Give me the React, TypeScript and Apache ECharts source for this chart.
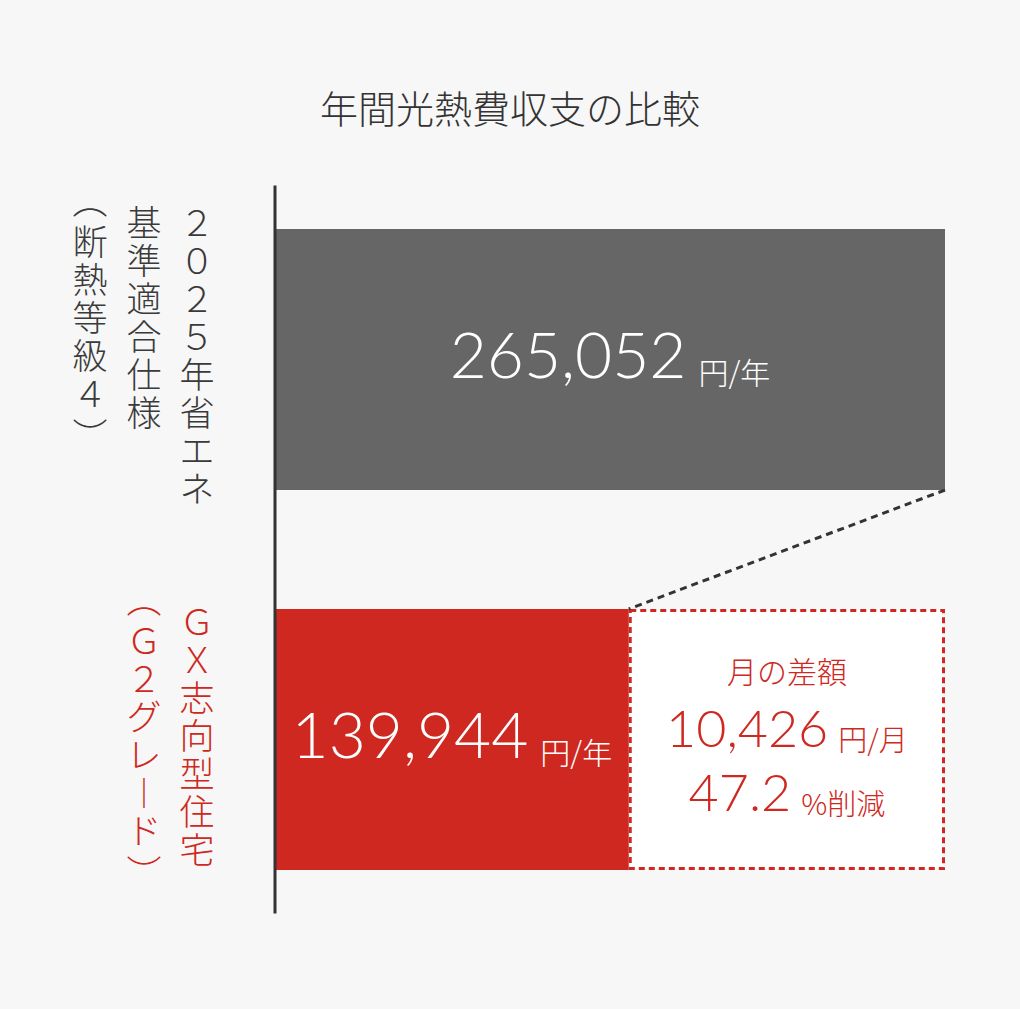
import React, { useEffect, useRef } from 'react';
import * as echarts from 'echarts';

// 値はすべて画像から読み取り
const categories = ['2025年省エネ基準適合仕様（断熱等級4）', 'GX志向型住宅（G2グレード）'];
// 縦書きラベル（右の列から順に）
const labelColumns = [
  ['２０２５年省エネ', '基準適合仕様', '（断熱等級４）'],
  ['ＧＸ志向型住宅', '（Ｇ２グレード）'],
];
const annualCost = [265052, 139944];
const monthlyDiff = 10426;
const reductionPct = 47.2;
const yearUnit = '円/年';
const monthUnit = '円/月';
const diffTitle = '月の差額';
const chartTitle = '年間光熱費収支の比較';

const GRAY = '#666666';
const RED = '#ce2821';
const TEXT_GRAY = '#3a3a3a';
const CJK = '"Noto Sans CJK JP", "Noto Sans", sans-serif';
const NUM = 'Lato, "Noto Sans", sans-serif';
const BAR_RATIO = 0.687;
const LINE_H = 38;

const VERT: Record<string, string> = { '（': '︵', '）': '︶', 'ー': '︱' };
const OPEN = '︵';
const CLOSE = '︶';

const toVertical = (s: string) => Array.from(s).map(c => VERT[c] ?? c);
const isHalf = (c: string) => c === OPEN || c === CLOSE;
const colHeight = (chars: string[]) => chars.reduce((h, c) => h + (isHalf(c) ? LINE_H / 2 : LINE_H), 0);

// 各カテゴリの列を上揃えにするため、短い列は全角スペースで埋める
const buildColumn = (catIndex: number, colIndex: number) => {
  const cols = labelColumns[catIndex].map(toVertical);
  const chars = cols[colIndex];
  if (!chars) return '';
  const maxH = Math.max(...cols.map(colHeight));
  const pad = Math.round((maxH - colHeight(chars)) / LINE_H);
  const tokens = chars.map(c => {
    const style = c === OPEN ? 'o' : c === CLOSE ? 'c' : 'f';
    return `{${style}${catIndex}|${c}}`;
  });
  for (let i = 0; i < pad; i++) tokens.push(`{f${catIndex}|　}`);
  return tokens.join('\n');
};

const fmt = (v: number) => v.toLocaleString('en-US');

const colStyles = (color: string) => {
  const base = { fontSize: 35, color, fontFamily: CJK, fontWeight: 300 };
  return {
    f: { ...base, lineHeight: LINE_H },
    o: { ...base, lineHeight: LINE_H / 2, padding: [0, 0, 26, 0] },
    c: { ...base, lineHeight: LINE_H / 2, padding: [26, 0, 0, 0] },
  };
};
const g = colStyles(TEXT_GRAY);
const r = colStyles(RED);
const labelRich = { f0: g.f, o0: g.o, c0: g.c, f1: r.f, o1: r.o, c1: r.c };

const makeYAxis = (colIndex: number, margin: number) => ({
  type: 'category' as const,
  data: categories,
  inverse: true,
  position: 'left' as const,
  axisLine: { show: false },
  axisTick: { show: false },
  splitLine: { show: false },
  axisLabel: {
    interval: 0,
    margin,
    align: 'center' as const,
    padding: [0, 0, 12, 0],
    formatter: (_v: string, i: number) => buildColumn(i, colIndex),
    rich: labelRich,
  },
});

const App: React.FC = () => {
  const chartRef = useRef<HTMLDivElement>(null);

  useEffect(() => {
    if (!chartRef.current) return;
    const chart = echarts.init(chartRef.current, undefined, { renderer: 'svg' });
    const diffYear = annualCost[0] - annualCost[1];

    const option: echarts.EChartsOption = {
      animation: false,
      backgroundColor: '#f7f7f7',
      title: {
        text: chartTitle,
        left: 'center',
        top: 82,
        textStyle: { fontSize: 38, fontWeight: 300, color: '#333333', fontFamily: CJK },
      },
      grid: { left: 275, right: 75, top: 169.5, bottom: 79.5 },
      xAxis: {
        type: 'value',
        min: 0,
        max: annualCost[0],
        show: false,
      },
      yAxis: [makeYAxis(0, 78), makeYAxis(1, 131), makeYAxis(2, 185)] as any,
      series: [
        {
          name: '年間光熱費',
          type: 'bar',
          stack: 'cost',
          barWidth: `${BAR_RATIO * 100}%`,
          data: annualCost.map((v, i) => ({ value: v, itemStyle: { color: i === 0 ? GRAY : RED } })),
          label: {
            show: true,
            position: 'inside',
            offset: [0, -6],
            formatter: (p: any) => `{n|${fmt(p.value)}}{u|${yearUnit}}`,
            rich: {
              n: { fontSize: 64, fontFamily: NUM, fontWeight: 300, color: '#fff', verticalAlign: 'bottom', lineHeight: 64 },
              u: { fontSize: 30, fontFamily: CJK, fontWeight: 300, color: '#fff', verticalAlign: 'bottom', lineHeight: 64, padding: [0, 0, 0, 12] },
            },
          },
        },
        {
          name: '差額',
          type: 'bar',
          stack: 'cost',
          barWidth: `${BAR_RATIO * 100}%`,
          data: ['-', diffYear],
          itemStyle: { color: '#ffffff', borderColor: RED, borderWidth: 3, borderType: [6, 4] },
          label: {
            show: true,
            position: 'inside',
            offset: [0, -6],
            formatter: () =>
              `{t|${diffTitle}}\n{n|${fmt(monthlyDiff)}}{u|${monthUnit}}\n{n|${reductionPct.toFixed(1)}}{u|%削減}`,
            rich: {
              t: { fontSize: 30, fontFamily: CJK, fontWeight: 300, color: RED, lineHeight: 38 },
              n: { fontSize: 52, fontFamily: NUM, fontWeight: 300, color: RED, lineHeight: 64, verticalAlign: 'bottom' },
              u: { fontSize: 29, fontFamily: CJK, fontWeight: 300, color: RED, lineHeight: 64, verticalAlign: 'bottom', padding: [0, 0, 0, 10] },
            },
          },
        },
        {
          name: '補助線',
          type: 'custom',
          encode: { x: [0, 1], y: 2 },
          data: [[annualCost[0], annualCost[1], 0]],
          z: 5,
          renderItem: (_params: any, api: any) => {
            const top = api.coord([api.value(0), 0]);
            const bot = api.coord([api.value(1), 1]);
            const band = api.size([0, 1])[1];
            const barH = band * BAR_RATIO;
            const base = api.coord([0, 0]);
            return {
              type: 'group',
              children: [
                {
                  type: 'line',
                  shape: { x1: top[0], y1: top[1] + barH / 2, x2: bot[0], y2: bot[1] - barH / 2 },
                  style: { stroke: '#333333', lineWidth: 3, lineDash: [7, 5] },
                },
                {
                  type: 'line',
                  shape: { x1: base[0], y1: top[1] - band * 0.458, x2: base[0], y2: bot[1] + band * 0.458 },
                  style: { stroke: '#333333', lineWidth: 3 },
                },
              ],
            };
          },
        },
      ],
    };

    chart.setOption(option);
    return () => chart.dispose();
  }, []);

  return <div ref={chartRef} style={{ position: 'fixed', left: 0, top: 0, width: 1020, height: 1009 }} />;
};

export default App;
